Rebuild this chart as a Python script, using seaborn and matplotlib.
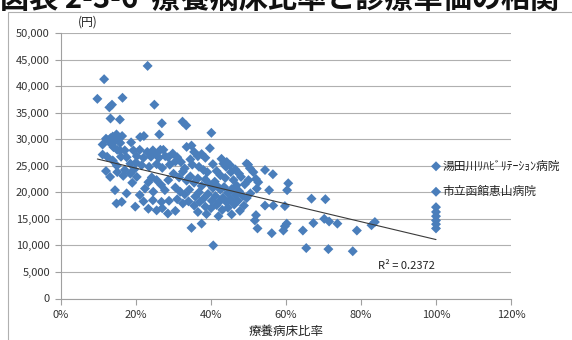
import numpy as np
import pandas as pd
import matplotlib
matplotlib.use("Agg")
import matplotlib.pyplot as plt
import seaborn as sns
from matplotlib.patches import Rectangle
from matplotlib.ticker import FuncFormatter

# ratio of long-term care beds (%) and unit price (yen)
ratio_pct = [
    # upper outliers
    23.1, 11.5, 9.7, 16.4, 24.9, 12.9, 13.6, 13.2, 15.7, 26.9, 32.4, 33.4, 40.1, 26.2, 21.1, 22.1,
    # dense left cluster
    11.1, 12.5, 13.2, 13.8, 14.3, 14.8, 15.3, 15.8, 16.3, 13.5, 12.0, 14.0, 15.0, 11.1, 15.7, 17.0,
    18.7, 19.3, 12.3, 13.8, 16.0,
    # 17-32 %
    17.5, 20.2, 22.0, 24.0, 26.1, 27.8, 29.8, 31.0, 27.3, 28.6, 21.0, 23.0, 24.5, 25.3, 26.5, 20.0,
    21.5, 23.5, 25.5, 27.0, 29.0, 30.5, 14.9, 18.5, 19.5, 17.0,
    # 32-41 %
    33.5, 34.8, 39.7, 35.5, 36.5, 37.5, 34.5, 38.5, 32.0, 35.0, 36.8, 33.0, 38.0, 40.5, 39.0,
    # 41-52 %
    42.8, 44.2, 45.1, 43.3, 44.0, 45.3, 49.5, 49.9, 50.4, 51.3, 52.0, 52.6, 46.5, 47.5, 41.5, 42.5,
    43.8, 41.0, 46.0,
    # 52-61 %
    54.4, 56.5, 60.6, 60.3, 55.5, 52.2, 54.4, 56.6, 59.7, 52.4, 51.7, 52.0, 56.2, 59.3, 59.7, 60.2,
    # 61-85 %
    66.8, 70.5, 70.2, 71.5, 73.7, 67.3, 64.5, 78.9, 82.8, 83.7, 65.4, 71.3, 77.8,
    # lower-left cluster
    13.1, 16.6, 20.2, 24.2, 23.3, 25.5, 26.7, 28.6, 14.4, 17.5, 22.4, 24.6, 27.7, 16.2, 22.0, 24.5,
    26.8, 28.8, 23.3, 25.5, 15.0, 19.0, 21.0, 18.5, 12.0, 19.8, 14.8,
    # middle cluster
    30.0, 31.5, 32.5, 33.5, 34.5, 35.5, 36.5, 37.5, 38.5, 39.5, 40.5, 41.5, 42.5, 43.5, 44.5, 45.5,
    46.5, 47.5, 48.5, 30.5, 31.8, 33.0, 34.2, 35.8, 36.8, 38.0, 39.2, 40.2, 41.2, 42.2, 43.2, 44.2,
    45.2, 46.2, 47.2, 31.0, 32.5, 34.0, 35.5, 37.0, 38.5, 40.0, 41.5, 43.0, 44.5, 45.5, 47.7, 48.8,
    49.5, 50.5, 49.0, 50.0, 48.0, 46.8, 34.8, 37.5, 40.6, 36.5, 38.8, 42.0, 30.5, 28.5, 27.0,
    # 100 % column
    100, 100, 100, 100, 100, 100, 100, 100,
]
unit_price = [
    43800, 41300, 37600, 37800, 36500, 36000, 36500, 33900, 33700, 33000, 33300, 32600, 31200, 30900, 30400, 30600,
    29000, 29800, 30200, 30500, 29600, 30900, 30100, 29300, 30600, 29000, 30100, 28500, 28000, 27100, 27900, 27900,
    29400, 27900, 26700, 26000, 26700,
    26600, 26800, 26500, 26700, 26500, 26800, 27300, 26600, 28000, 26600, 28000, 27600, 27900, 27200, 28000, 25600,
    25100, 24800, 25300, 24600, 25200, 25800, 25000, 25400, 24300, 24200,
    28550, 28800, 28300, 27600, 26800, 27200, 26200, 26500, 25700, 25200, 24800, 24500, 24200, 25300, 23800,
    26300, 25700, 25100, 25400, 24800, 23800, 25400, 25200, 24500, 23800, 22500, 21900, 24300, 23500, 24000, 23200,
    22700, 22000, 22300,
    24200, 23400, 21700, 20400, 20400, 20700, 17500, 17500, 17400, 13200, 14700, 15700, 12300, 12800, 13600, 14100,
    18800, 18700, 15000, 14500, 14100, 14200, 12800, 12800, 13800, 14400, 9500, 9300, 8900,
    22900, 23100, 22900, 22800, 21900, 22300, 21400, 22300, 20400, 19800, 20700, 20100, 20400, 18200, 18300, 18500,
    18200, 18400, 16900, 16600, 23800, 21800, 19500, 23500, 24000, 17300, 17900,
    23500, 22800, 23900, 22200, 23000, 21800, 22600, 21200, 22400, 21600, 20800, 21300, 20500, 21000, 19900, 20600,
    19500, 20200, 19300, 20900, 20100, 19600, 20500, 19200, 20000, 18800, 19700, 18400, 19300, 18200, 19000, 18100,
    18700, 17700, 18400, 18700, 17900, 18300, 17500, 18200, 17300, 17000, 17600, 16700, 17100, 15850, 16500, 17500,
    18900, 19800, 21500, 22300, 22900, 21300, 13300, 14100, 10000, 16300, 15900, 15500, 16500, 16000, 17000,
    24900, 20100, 17200, 16300, 15500, 14700, 14000, 13200,
]

# labelled hospitals (at 100 %)
label_names = ["湯田川ﾘﾊﾋﾞﾘﾃｰｼｮﾝ病院", "市立函館恵山病院"]
label_ratio = [1.00, 1.00]
label_price = [24900, 20100]

# linear trend
trend_slope = -16800
trend_intercept = 27900
r_squared = 0.2372

df = pd.DataFrame({"ratio": np.array(ratio_pct) / 100, "price": unit_price})

sns.set_theme(style="white")
plt.rcParams["font.family"] = ["Noto Sans CJK JP", "DejaVu Sans"]

fig = plt.figure(figsize=(5.72, 3.4), dpi=100)
ax = fig.add_axes([61 / 572, 1 - 298.5 / 340, 450 / 572, 265.5 / 340])

sns.scatterplot(data=df, x="ratio", y="price", marker="D", s=26, color="#4a7ebb",
                edgecolor="none", linewidth=0, ax=ax, zorder=3)

# trend line over the data range
tx = np.array([df["ratio"].min(), df["ratio"].max()])
ax.plot(tx, trend_intercept + trend_slope * tx, color="#3a3a3a", lw=0.8, zorder=4)

for name, x, y in zip(label_names, label_ratio, label_price):
    ax.text(x + 0.018, y, name, fontsize=8.5, va="center", ha="left", color="#222222")

ax.text(0.845, 6100, f"R² = {r_squared}", fontsize=8, va="center", ha="left", color="#222222")

ax.set_xlim(0, 1.2)
ax.set_ylim(0, 50000)
ax.set_xticks(np.arange(0, 1.21, 0.2))
ax.set_yticks(np.arange(0, 50001, 5000))
ax.xaxis.set_major_formatter(FuncFormatter(lambda v, p: f"{v * 100:.0f}%"))
ax.yaxis.set_major_formatter(FuncFormatter(lambda v, p: f"{v:,.0f}"))
ax.tick_params(axis="both", labelsize=8, colors="#333333", length=4, width=0.8,
               color="#a0a0a0", direction="out", left=True, bottom=True)
ax.tick_params(axis="y", pad=4)
ax.tick_params(axis="x", pad=4)
ax.grid(axis="y", color="#b0b0b0", lw=0.8)
ax.set_axisbelow(True)
for side in ["top", "right"]:
    ax.spines[side].set_visible(False)
for side in ["left", "bottom"]:
    ax.spines[side].set_color("#a0a0a0")
    ax.spines[side].set_linewidth(0.8)

ax.set_xlabel("療養病床比率", fontsize=9, color="#222222", labelpad=4)
ax.set_ylabel("")
fig.text(88 / 572, 1 - 22 / 340, "(円)", fontsize=8.5, ha="center", va="center", color="#222222")

# chart frame and cut-off title (the reference crops it at the top)
fig.patches.append(Rectangle((8 / 572, -0.1), 1.2, 1.1 - 12 / 340, transform=fig.transFigure,
                             fill=False, ec="#b0b0b0", lw=0.8))
fig.text(0.0, 1 - 8 / 340, "図表 2-3-6  療養病床比率と診療単価の相関", fontsize=21,
         fontweight="bold", ha="left", va="baseline", color="#111111")

fig.savefig("out.png", dpi=100)
